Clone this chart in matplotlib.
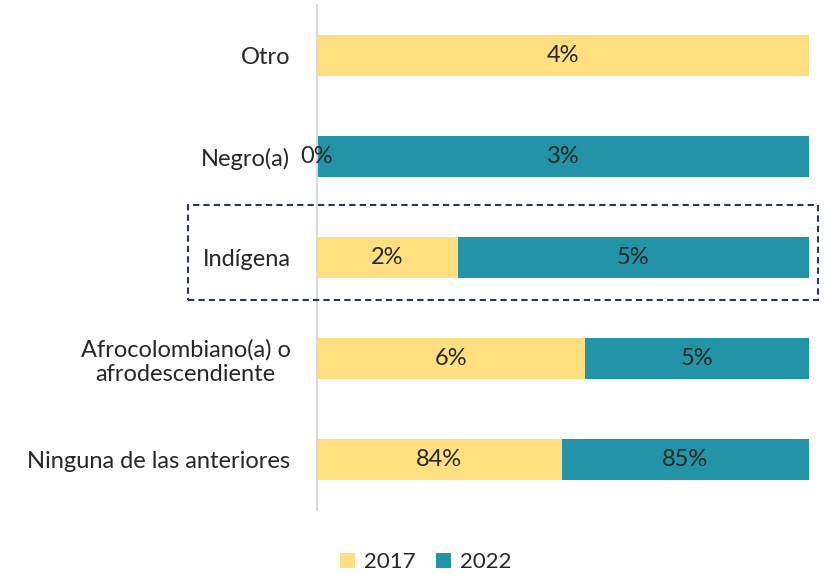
import matplotlib.pyplot as plt
import numpy as np
from matplotlib.patches import Rectangle

categorias = ['Ninguna de las anteriores', 'Afrocolombiano(a) o\nafrodescendiente',
              'Indígena', 'Negro(a)', 'Otro']
v2017 = [84, 6, 2, 0, 4]
v2022 = [85, 5, 5, 3, np.nan]
anios = ['2017', '2022']
colores = ['#FFDF7F', '#2394A8']

plt.rcParams['font.family'] = ['Lato', 'DejaVu Sans']

a = np.array(v2017, dtype=float)
b = np.array(v2022, dtype=float)
tot = a + np.nan_to_num(b)
fa = a / tot
fb = np.nan_to_num(b) / tot

fig = plt.figure(figsize=(8.25, 5.75), dpi=100)
ax = fig.add_axes([0.384, 0.113, 0.597, 0.878])
y = np.arange(len(categorias))
ax.barh(y, fa, height=0.4, color=colores[0], label=anios[0])
ax.barh(y, fb, left=fa, height=0.4, color=colores[1], label=anios[1])

for i in range(len(categorias)):
    ax.text(fa[i] / 2, y[i], f'{v2017[i]:.0f}%', ha='center', va='center',
            fontsize=17, color='#262626')
    if not np.isnan(b[i]):
        ax.text(fa[i] + fb[i] / 2, y[i], f'{v2022[i]:.0f}%', ha='center',
                va='center', fontsize=17, color='#262626')

ax.set_xlim(0, 1)
ax.set_ylim(-0.5, 4.5)
ax.set_yticks(y)
ax.set_yticklabels(categorias, fontsize=17, color='#262626', multialignment='center')
ax.tick_params(axis='y', length=0, pad=19)
ax.set_xticks([])
for s in ['top', 'right', 'bottom']:
    ax.spines[s].set_visible(False)
ax.spines['left'].set_color('#D9D9D9')
ax.spines['left'].set_linewidth(1.5)

rect = Rectangle((0.228, 0.478), 0.764, 0.165, transform=fig.transFigure,
                 fill=False, edgecolor='#1F3864', linestyle=(0, (3, 2)),
                 linewidth=1.5, clip_on=False)
fig.patches.append(rect)

fig.legend(loc='center', bbox_to_anchor=(0.516, 0.022), ncol=2, frameon=False,
           fontsize=16, handlelength=0.7, handleheight=0.7, handletextpad=0.4,
           columnspacing=0.9, labelcolor='#262626')

fig.savefig('out.png', dpi=100)
